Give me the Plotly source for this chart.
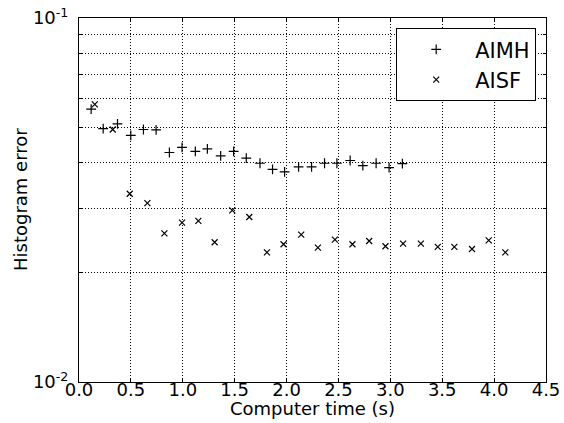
import plotly.graph_objects as go

aimh_t = [0.117, 0.233, 0.371, 0.499, 0.621, 0.743, 0.871, 0.993, 1.121, 1.237,
          1.365, 1.490, 1.612, 1.744, 1.865, 1.981, 2.116, 2.241, 2.366, 2.485,
          2.613, 2.735, 2.863, 2.988, 3.116]
aimh_err = [0.0562, 0.0497, 0.0512, 0.0476, 0.0494, 0.0493, 0.0427, 0.0441, 0.0430, 0.0437,
            0.0418, 0.0430, 0.0412, 0.0399, 0.0384, 0.0378, 0.0390, 0.0390, 0.0399, 0.0399,
            0.0406, 0.0393, 0.0399, 0.0388, 0.0398]

aisf_t = [0.152, 0.325, 0.489, 0.659, 0.823, 0.993, 1.150, 1.307, 1.477, 1.641,
          1.811, 1.971, 2.141, 2.302, 2.466, 2.635, 2.796, 2.953, 3.123, 3.294,
          3.457, 3.617, 3.787, 3.948, 4.108]
aisf_err = [0.0579, 0.0494, 0.0329, 0.0310, 0.0256, 0.0274, 0.0277, 0.0242, 0.0296, 0.0284,
            0.0227, 0.0239, 0.0254, 0.0234, 0.0246, 0.0239, 0.0244, 0.0236, 0.0240, 0.0240,
            0.0235, 0.0235, 0.0232, 0.0245, 0.0227]

x_ticks = [0.0, 0.5, 1.0, 1.5, 2.0, 2.5, 3.0, 3.5, 4.0, 4.5]
y_major = [0.01, 0.1]
y_major_text = ["10<sup>-2</sup>", "10<sup>-1</sup>"]
y_minor = [0.02, 0.03, 0.04, 0.05, 0.06, 0.07, 0.08, 0.09]

FONT = "DejaVu Sans"
DOT = "1px,2px"

fig = go.Figure()
fig.add_trace(go.Scatter(x=aimh_t, y=aimh_err, mode="markers", name="AIMH",
                         marker=dict(symbol="cross-thin", size=7, color="black",
                                     line=dict(width=1.2, color="black"))))
fig.add_trace(go.Scatter(x=aisf_t, y=aisf_err, mode="markers", name="AISF",
                         marker=dict(symbol="x-thin", size=6, color="black",
                                     line=dict(width=1.2, color="black"))))

fig.update_layout(
    width=564, height=423,
    margin=dict(l=78.5, r=18, t=18, b=41),
    plot_bgcolor="white", paper_bgcolor="white",
    font=dict(family=FONT, size=18, color="black"),
    showlegend=True,
    legend=dict(x=0.979, y=0.972, xanchor="right", yanchor="top",
                bordercolor="black", borderwidth=1, bgcolor="white",
                font=dict(size=21, family=FONT), itemwidth=68,
                tracegroupgap=0),
    xaxis=dict(range=[0, 4.5], tickvals=x_ticks,
               ticktext=[f"{v:.1f}" for v in x_ticks],
               ticks="inside", ticklen=4, tickcolor="black",
               showline=True, linecolor="black", linewidth=1, mirror="ticks",
               showgrid=True, gridcolor="black", griddash=DOT, gridwidth=1,
               zeroline=False, automargin=False, ticklabelstandoff=-9,
               tickfont=dict(size=18)),
    yaxis=dict(type="log", range=[-2, -1], tickvals=y_major, ticktext=y_major_text,
               ticks="inside", ticklen=6, tickcolor="black",
               showline=True, linecolor="black", linewidth=1, mirror="ticks",
               showgrid=False, zeroline=False, automargin=False, ticklabelstandoff=6,
               minor=dict(tickvals=y_minor, ticks="inside", ticklen=3, tickcolor="black",
                          showgrid=True, gridcolor="black", griddash=DOT, gridwidth=1),
               tickfont=dict(size=18)),
    annotations=[
        dict(text="Computer time (s)", xref="paper", yref="paper",
             x=0.5, y=0, yshift=-26, xanchor="center", yanchor="middle",
             showarrow=False, font=dict(size=18, family=FONT)),
        dict(text="Histogram error", xref="paper", yref="paper",
             x=0, xshift=-59, y=0.5, xanchor="center", yanchor="middle",
             textangle=-90, showarrow=False, font=dict(size=18, family=FONT)),
    ],
)

fig.write_html("out.html")
